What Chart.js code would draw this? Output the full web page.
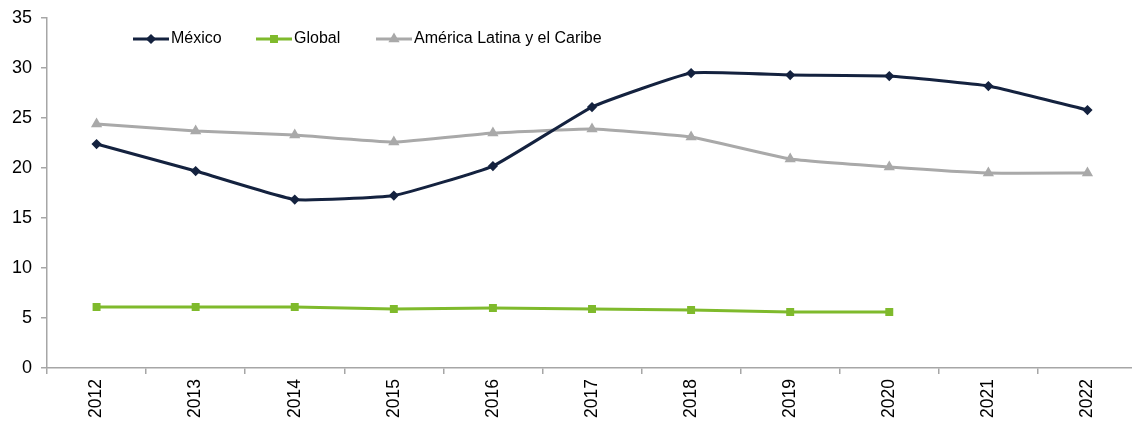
<!DOCTYPE html>
<html lang="es">
<head>
<meta charset="UTF-8">
<title>México / Global / América Latina y el Caribe</title>
<script src="https://cdn.jsdelivr.net/npm/chart.js"></script>
<style>
  html, body { margin: 0; padding: 0; background: #ffffff; overflow: hidden; }
  #wrap { width: 1144px; height: 426px; position: relative; }
</style>
</head>
<body>
<div id="wrap"><canvas id="chart"></canvas></div>
<script>
const years = ['2012', '2013', '2014', '2015', '2016', '2017', '2018', '2019', '2020', '2021', '2022'];
const mexico = [22.4, 19.7, 16.85, 17.25, 20.2, 26.1, 29.5, 29.3, 29.2, 28.2, 25.8];
const globalSeries = [6.1, 6.1, 6.1, 5.9, 6.0, 5.9, 5.8, 5.6, 5.6, null, null];
const latam = [24.4, 23.7, 23.3, 22.6, 23.5, 23.9, 23.1, 20.9, 20.1, 19.5, 19.5];
const yTicks = [0, 5, 10, 15, 20, 25, 30, 35];

const NAVY = '#14223f';
const GREEN = '#7fba2c';
const GREY = '#a9a9a9';
const AXIS = '#a6a6a6';
const FONT = '"Liberation Sans", Arial, sans-serif';

// legend drawn inside the plot, top-left, Excel style (line + marker + text)
const insideLegend = {
  id: 'insideLegend',
  afterDraw(chart) {
    const ctx = chart.ctx;
    const items = [
      { ds: 0, x: 133 },
      { ds: 1, x: 256 },
      { ds: 2, x: 376 }
    ];
    const y = 39;
    ctx.save();
    ctx.font = '16px ' + FONT;
    ctx.textBaseline = 'middle';
    ctx.textAlign = 'left';
    items.forEach(it => {
      const ds = chart.data.datasets[it.ds];
      ctx.strokeStyle = ds.borderColor;
      ctx.lineWidth = ds.borderWidth;
      ctx.beginPath();
      ctx.moveTo(it.x, y);
      ctx.lineTo(it.x + 36, y);
      ctx.stroke();
      ctx.fillStyle = ds.borderColor;
      Chart.helpers.drawPoint(ctx, {
        pointStyle: ds.pointStyle,
        radius: ds.pointRadius,
        rotation: ds.pointRotation || 0,
        borderWidth: 1
      }, it.x + 18, y);
      ctx.fillStyle = '#000000';
      ctx.fillText(ds.label, it.x + 38, y);
    });
    ctx.restore();
  }
};

const pointDefaults = (color) => ({
  borderColor: color,
  backgroundColor: color,
  pointBackgroundColor: color,
  pointBorderColor: color,
  borderWidth: 3
});

new Chart(document.getElementById('chart'), {
  type: 'line',
  data: {
    labels: years,
    datasets: [
      Object.assign({
        label: 'México',
        data: mexico,
        pointStyle: 'rectRot',
        pointRadius: 3,
        tension: 0.12
      }, pointDefaults(NAVY)),
      Object.assign({
        label: 'Global',
        data: globalSeries,
        pointStyle: 'rect',
        pointRadius: 3.5,
        tension: 0,
        spanGaps: false
      }, pointDefaults(GREEN)),
      Object.assign({
        label: 'América Latina y el Caribe',
        data: latam,
        pointStyle: 'triangle',
        pointRadius: 3.5,
        tension: 0.12
      }, pointDefaults(GREY))
    ]
  },
  options: {
    responsive: true,
    maintainAspectRatio: false,
    animation: false,
    layout: { padding: { top: 9, right: 0, left: 3, bottom: 3 } },
    plugins: {
      legend: { display: false },
      tooltip: { enabled: false }
    },
    scales: {
      x: {
        offset: true,
        border: { color: AXIS, width: 1.5 },
        grid: {
          display: true,
          drawOnChartArea: false,
          offset: true,
          tickLength: 6,
          color: AXIS,
          lineWidth: 1.5
        },
        ticks: {
          color: '#000000',
          font: { family: FONT, size: 17.5 },
          minRotation: 90,
          maxRotation: 90,
          padding: 5
        }
      },
      y: {
        min: 0,
        max: 35,
        afterBuildTicks: (scale) => { scale.ticks = yTicks.map(v => ({ value: v })); },
        border: { color: AXIS, width: 1.5 },
        grid: {
          display: true,
          drawOnChartArea: false,
          tickLength: 6,
          color: AXIS,
          lineWidth: 1.5
        },
        ticks: {
          color: '#000000',
          font: { family: FONT, size: 18, lineHeight: 1 },
          padding: 9
        }
      }
    }
  },
  plugins: [insideLegend]
});
</script>
</body>
</html>
